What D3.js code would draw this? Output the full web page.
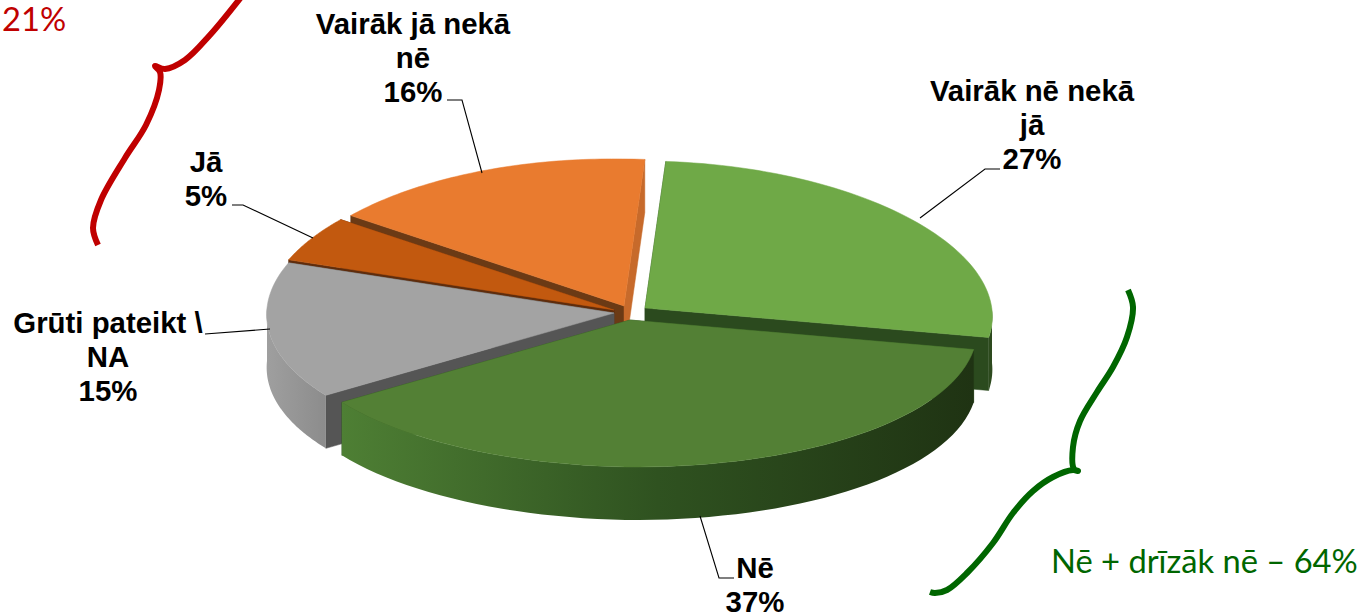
<!DOCTYPE html>
<html><head><meta charset="utf-8">
<script src="https://cdn.jsdelivr.net/npm/d3@7/dist/d3.min.js"></script>
<style>html,body{margin:0;background:#fff}svg{display:block}
.lab{font-family:"Liberation Sans",Arial,sans-serif;font-weight:700;font-size:29.4px;fill:#000;text-anchor:middle}
.note{font-family:Lato,sans-serif;font-size:32.7px}</style></head>
<body><svg id="c" width="1362" height="616"></svg>
<script>
// --- data (clockwise from the first slice) ---
const categories = [["Vairāk nē nekā","jā"],["Nē"],["Grūti pateikt \\","NA"],["Jā"],["Vairāk jā nekā","nē"]];
const values = [27,37,15,5,16];
const noteNo = "Nē + drīzāk nē – 64%";
const noteYes = "21%";

// --- style / layout ---
const topColors  = ["#6fa947","#538035","#a3a3a3","#c2590f","#e97b2f"];
const startWall  = ["#2b4a1e","#2b4a1e","#555555","#5e2c0c","#6b3a15"];
const endWall    = ["#2b4a1e","#2b4a1e","#555555","#5e2c0c","#c76a2b"];
const wallStops  = [["#2d4a1e","#2d4a1e"],["#4e7f34","#2f5220","#1f3313"],["#9f9f9f","#8c8c8c"],["#7a3a0c","#7a3a0c"],["#b05c20","#b05c20"]];
const apexes = [[645,308],[630,320],[614,313],[614,310],[624,306]];
const paintOrder = [0,4,3,2,1];
const labelPos = [[1032,101],[755,578],[108,333],[206,172],[413,34]];
const leaders = [
  [[1000,169],[985,169],[920,218]],
  [[734,578],[719,578],[700,516]],
  [[205,334],[270,329]],
  [[232,205],[243,205],[313,238]],
  [[447,100],[462,100],[482,173]]
];
const rx=347, ry=147, depth=53, persp=0.045, rot=3.6*Math.PI/180, tiltL=5, tiltR=2;
const braceRed = [[98,245],[93,228],[101,200],[125,158],[146,125],[159,90],[160,72],[155,66],[165,69],[185,60],[210,35],[242,-4]];
const braceGreen = [[1128,290],[1133,307],[1127,337],[1113,367],[1097,392],[1080,421],[1073,447],[1074,469],[1078,471],[1073,470],[1053,477],[1033,491],[1013,513],[993,543],[967,573],[947,590],[935,593],[930,592]];

const svg = d3.select("#c"), defs = svg.append("defs");
const pie = d3.pie().sort(null).startAngle(rot).endAngle(rot+2*Math.PI)(values);
const xS = d3.scaleLinear().domain([-1,1]).range([-rx,rx]);
const yS = d3.scaleLinear().domain([-1,1]).range([ry,-ry]);
const line = d3.line();
const rim = (i,t,dz=0)=>{const [ax,ay]=apexes[i], s=Math.sin(t);
  return [ax+xS(s)*(1-persp*Math.cos(t)), ay+yS(Math.cos(t))+s*(s<0?tiltL:tiltR)+dz];};
const samples=(a,b)=>d3.range(0,61).map(k=>a+(b-a)*k/60);

paintOrder.forEach(i=>{
  const d=pie[i];
  const a=d.startAngle,b=d.endAngle,[ax,ay]=apexes[i],g=svg.append("g");
  const id="w"+i, grad=defs.append("linearGradient").attr("id",id).attr("gradientUnits","userSpaceOnUse")
    .attr("x1",d3.min(samples(a,b),t=>rim(i,t)[0])).attr("x2",d3.max(samples(a,b),t=>rim(i,t)[0])).attr("y1",0).attr("y2",0);
  wallStops[i].forEach((c,k,arr)=>grad.append("stop").attr("offset",k/(arr.length-1)).attr("stop-color",c));
  // cut walls
  const q=(t,c)=>{const p=rim(i,t);g.append("path").attr("fill",c).attr("stroke",c).attr("stroke-width",.5)
    .attr("d",line([[ax,ay],p,[p[0],p[1]+depth],[ax,ay+depth]])+"Z");};
  q(a,startWall[i]); q(b,endWall[i]);
  // outer wall: near half only
  const wa=Math.max(a,Math.PI/2), wb=Math.min(b,Math.PI*1.5);
  if(wb>wa){const s=samples(wa,wb);
    g.append("path").attr("fill",`url(#${id})`)
     .attr("d",line(s.map(t=>rim(i,t)).concat(s.slice().reverse().map(t=>rim(i,t,depth))))+"Z");}
  // top
  g.append("path").attr("fill",topColors[i]).attr("stroke",topColors[i]).attr("stroke-width",.5)
   .attr("d",line([[ax,ay]].concat(samples(a,b).map(t=>rim(i,t))))+"Z");
});

// leaders
svg.append("g").selectAll("path").data(leaders).join("path")
  .attr("d",d=>line(d)).attr("fill","none").attr("stroke","#000").attr("stroke-width",1.1);

// labels
categories.forEach((c,i)=>{
  const t=svg.append("text").attr("class","lab");
  c.concat(values[i]+"%").forEach((s,k)=>t.append("tspan").attr("x",labelPos[i][0]).attr("y",labelPos[i][1]+k*34).text(s));
});

// braces + notes
const curve=d3.line().curve(d3.curveCatmullRom.alpha(.5));
svg.append("path").attr("d",curve(braceRed)).attr("fill","none").attr("stroke","#c00000").attr("stroke-width",6);
svg.append("path").attr("d",curve(braceGreen)).attr("fill","none").attr("stroke","#006600").attr("stroke-width",6);
svg.append("text").attr("class","note").attr("x",2).attr("y",31).attr("fill","#c00000").text(noteYes);
svg.append("text").attr("class","note").attr("x",1051).attr("y",573).attr("fill","#006600").text(noteNo);
</script></body></html>
